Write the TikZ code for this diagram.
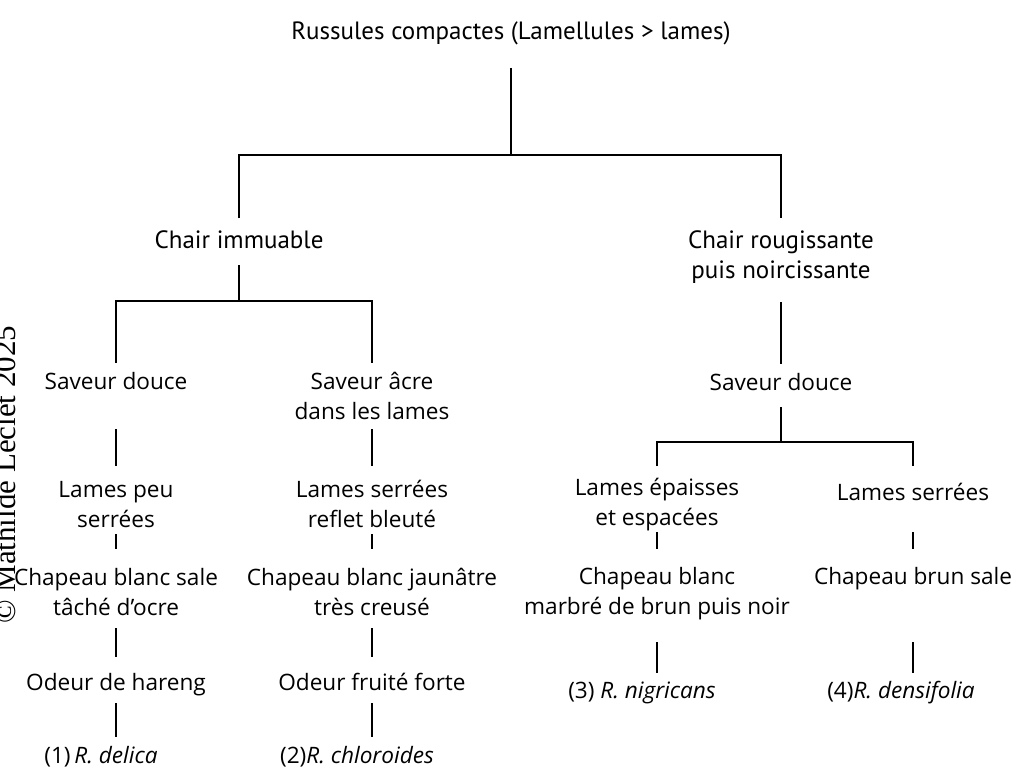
\documentclass[tikz,border=0pt]{standalone}
\usepackage{fontspec}
\setmainfont{Open Sans}
\newfontfamily\condfam{PT Sans}
\newfontfamily\copyfam{Liberation Serif}
\newcommand\mainf{\fontsize{22.6}{30}\selectfont}
\newcommand\condf{\condfam\fontsize{25}{30}\selectfont}
\newcommand\copyf{\copyfam\fontsize{31}{36}\selectfont}
\begin{document}
\begin{tikzpicture}[x=1pt,y=-1pt,line width=2.3pt,
  lbl/.style={inner sep=0pt,anchor=base,align=center,font=\mainf},
  cnd/.style={lbl,font=\condf}]
\useasboundingbox (0,0) rectangle (1018,768);
\fill[white] (0,0) rectangle (1018,768);
% copyright
\node[inner sep=0pt,rotate=90,anchor=base west,font=\copyf] (cp) at (16,625) {© Mathilde Leclet 2025};
% level 0-1
\node[cnd] (t) at (511,40) {Russules compactes (Lamellules > lames)};
\coordinate (h1) at (511,155);
\node[cnd] (c1) at (239,248) {Chair immuable};
\node[cnd] (c2) at (781,278) {Chair rougissante\\puis noircissante};
\draw (t.base |- 0,68) -- (h1);
\draw (c1.base |- 0,218) |- (h1) -| (c2.base |- 0,218);
% left subtree
\coordinate (h2) at (239,301);
\node[lbl] (s1) at (116,389) {Saveur douce};
\node[lbl] (s2) at (372,419) {Saveur âcre\\dans les lames};
\draw (c1.base |- 0,265) -- (h2);
\draw (s1.base |- 0,363) |- (h2) -| (s2.base |- 0,363);
\node[lbl] (l1) at (116,527) {Lames peu\\serrées};
\node[lbl] (l2) at (372,527) {Lames serrées\\reflet bleuté};
\draw (s1.base |- 0,429) -- (l1.base |- 0,466);
\draw (s2.base |- 0,429) -- (l2.base |- 0,466);
\node[lbl] (p1) at (116,615) {Chapeau blanc sale\\tâché d’ocre};
\node[lbl] (p2) at (372,615) {Chapeau blanc jaunâtre\\très creusé};
\draw (l1.base |- 0,534) -- (p1.base |- 0,549);
\draw (l2.base |- 0,534) -- (p2.base |- 0,549);
\node[lbl] (o1) at (116,690) {Odeur de hareng};
\node[lbl] (o2) at (372,690) {Odeur fruité forte};
\draw (p1.base |- 0,628) -- (o1.base |- 0,657);
\draw (p2.base |- 0,628) -- (o2.base |- 0,657);
\node[lbl] (r1) at (101,763) {(1)\,\textit{R. delica}};
\node[lbl] (r2) at (357,763) {(2)\textit{R. chloroides}};
\draw (o1.base |- 0,703) -- (o1.base |- 0,737);
\draw (o2.base |- 0,703) -- (o2.base |- 0,737);
% right subtree
\node[lbl] (s3) at (781,390) {Saveur douce};
\draw (c2.base |- 0,302) -- (s3.base |- 0,364);
\coordinate (h3) at (781,442);
\draw (s3.base |- 0,407) -- (h3);
\node[lbl] (l3) at (657,525) {Lames épaisses\\et espacées};
\node[lbl] (l4) at (913,500) {Lames serrées};
\draw (l3.base |- 0,466) |- (h3) -| (l4.base |- 0,466);
\node[lbl] (p3) at (657,614) {Chapeau blanc\\marbré de brun puis noir};
\node[lbl] (p4) at (913,584) {Chapeau brun sale};
\draw (l3.base |- 0,532) -- (p3.base |- 0,549);
\draw (l4.base |- 0,532) -- (p4.base |- 0,549);
\node[lbl] (r3) at (642,698) {(3) \textit{R. nigricans}};
\node[lbl] (r4) at (901,698) {(4)\textit{R. densifolia}};
\draw (p3.base |- 0,642) -- (p3.base |- 0,673);
\draw (p4.base |- 0,642) -- (p4.base |- 0,673);
\end{tikzpicture}
\end{document}
